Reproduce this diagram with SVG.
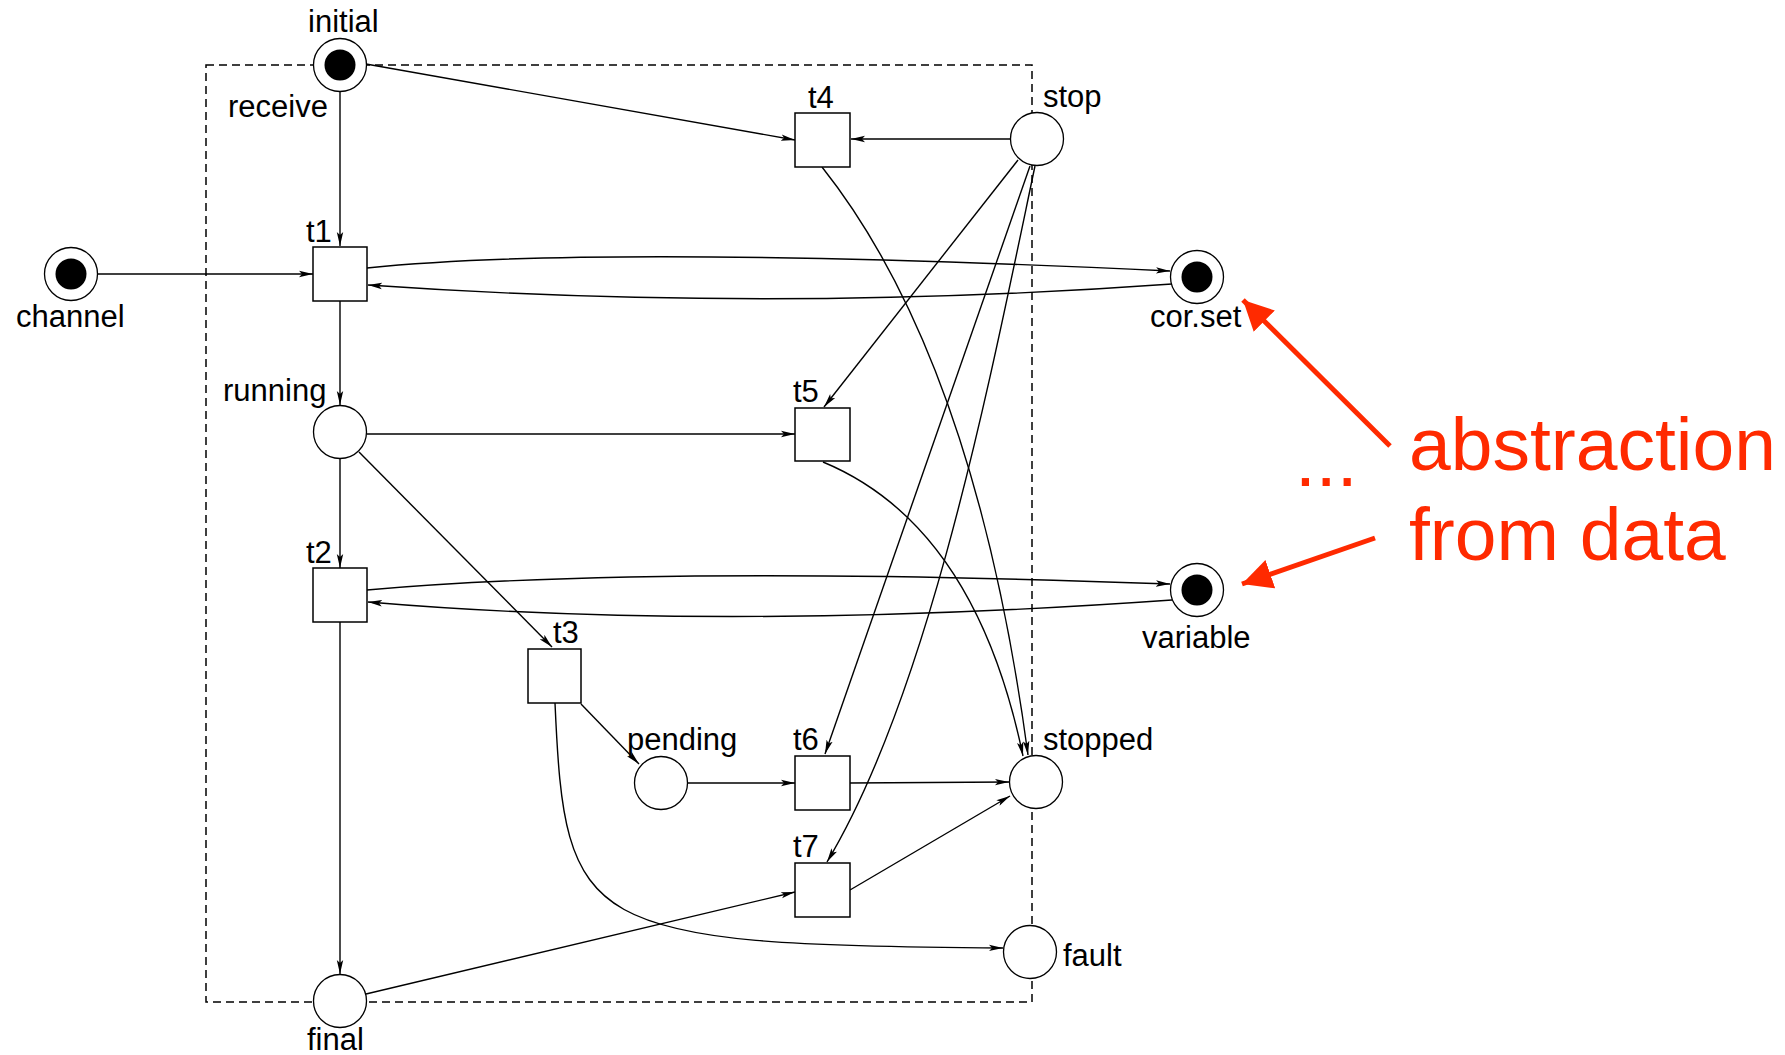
<svg xmlns="http://www.w3.org/2000/svg" width="1785" height="1055" viewBox="0 0 1785 1055">
  <style>
    .lbl { font-family: "Liberation Sans", Arial, sans-serif; font-size: 31px; fill: #000; }
    .note { font-family: "Liberation Sans", Arial, sans-serif; font-size: 75px; fill: #ff2a00; }
    .place { fill: #fff; stroke: #000; stroke-width: 1.3; }
    .token { fill: #000; }
    .trans { fill: #fff; stroke: #000; stroke-width: 1.5; }
    .arc { fill: none; stroke: #000; stroke-width: 1.4; marker-end: url(#ah); }
    .boundary { fill: none; stroke: #000; stroke-width: 1.5; stroke-dasharray: 8 5; }
    .callout { fill: none; stroke: #ff2a00; stroke-width: 5; marker-end: url(#redhead); }
  </style>
  <defs>
    <marker id="ah" markerUnits="userSpaceOnUse" markerWidth="16" markerHeight="8" refX="14" refY="4" orient="auto">
      <path d="M0,0.8 L14,4 L0,7.2 L3,4 Z" fill="#000"/>
    </marker>
    <marker id="redhead" markerUnits="userSpaceOnUse" markerWidth="32" markerHeight="32" refX="30" refY="15" orient="auto">
      <path d="M0,0 L30,15 L0,30 Z" fill="#ff2a00"/>
    </marker>
  </defs>
  <rect width="1785" height="1055" fill="#fff"/>

  <!-- process boundary -->
  <rect class="boundary" x="206" y="65" width="826" height="937"/>

  <!-- arcs -->
  <g id="connectors">
    <path class="arc" d="M340,92 L340,246"/>
    <path class="arc" d="M366,64 L795,140"/>
    <path class="arc" d="M1010,139 L851,139"/>
    <path class="arc" d="M98,274 L313,274"/>
    <path class="arc" d="M367,268 Q600,244 1170,271"/>
    <path class="arc" d="M1172,284 Q770,313 368,285"/>
    <path class="arc" d="M340,301 L340,405"/>
    <path class="arc" d="M367,434 L795,434"/>
    <path class="arc" d="M340,459 L340,568"/>
    <path class="arc" d="M359,452 L552,647"/>
    <path class="arc" d="M367,590 Q650,565 1170,584"/>
    <path class="arc" d="M1172,600 Q720,632 368,602"/>
    <path class="arc" d="M340,622 L340,974"/>
    <path class="arc" d="M581,704 L639,764"/>
    <path class="arc" d="M688,783 L795,783"/>
    <path class="arc" d="M555,703 C565,930 580,945 1003,948"/>
    <path class="arc" d="M822,167 Q975,360 1028,755"/>
    <path class="arc" d="M823,462 Q975,525 1023,756"/>
    <path class="arc" d="M1018,160 L824,407"/>
    <path class="arc" d="M1030,166 L825,754"/>
    <path class="arc" d="M1035,166 C990,380 930,690 827,862"/>
    <path class="arc" d="M850,783 L1009,782"/>
    <path class="arc" d="M850,890 L1010,796"/>
    <path class="arc" d="M366,994 L795,892"/>
  </g>

  <!-- places -->
  <g id="initial">
    <circle class="place" cx="340" cy="65" r="26.5"/>
    <circle class="token" cx="340" cy="65" r="15.5"/>
    <text class="lbl" x="308" y="32">initial</text>
    <text class="lbl" x="228" y="117">receive</text>
  </g>
  <g id="channel">
    <circle class="place" cx="71" cy="274" r="26.5"/>
    <circle class="token" cx="71" cy="274" r="15.5"/>
    <text class="lbl" x="16" y="327">channel</text>
  </g>
  <g id="corset">
    <circle class="place" cx="1197" cy="277" r="26.5"/>
    <circle class="token" cx="1197" cy="277" r="15.5"/>
    <text class="lbl" x="1150" y="327">cor.set</text>
  </g>
  <g id="variable">
    <circle class="place" cx="1197" cy="590" r="26.5"/>
    <circle class="token" cx="1197" cy="590" r="15.5"/>
    <text class="lbl" x="1142" y="648">variable</text>
  </g>
  <g id="running">
    <circle class="place" cx="340" cy="432" r="26.5"/>
    <text class="lbl" x="223" y="401">running</text>
  </g>
  <g id="pending">
    <circle class="place" cx="661" cy="783" r="26.5"/>
    <text class="lbl" x="627" y="750">pending</text>
  </g>
  <g id="stop">
    <circle class="place" cx="1037" cy="139" r="26.5"/>
    <text class="lbl" x="1043" y="107">stop</text>
  </g>
  <g id="stopped">
    <circle class="place" cx="1036" cy="782" r="26.5"/>
    <text class="lbl" x="1043" y="750">stopped</text>
  </g>
  <g id="fault">
    <circle class="place" cx="1030" cy="952" r="26.5"/>
    <text class="lbl" x="1063" y="966">fault</text>
  </g>
  <g id="final">
    <circle class="place" cx="340" cy="1001" r="26.5"/>
    <text class="lbl" x="307" y="1050">final</text>
  </g>

  <!-- transitions -->
  <g id="t1">
    <rect class="trans" x="313" y="247" width="54" height="54"/>
    <text class="lbl" x="306" y="242">t1</text>
  </g>
  <g id="t2">
    <rect class="trans" x="313" y="568" width="54" height="54"/>
    <text class="lbl" x="306" y="563">t2</text>
  </g>
  <g id="t3">
    <rect class="trans" x="528" y="649" width="53" height="54"/>
    <text class="lbl" x="553" y="643">t3</text>
  </g>
  <g id="t4">
    <rect class="trans" x="795" y="113" width="55" height="54"/>
    <text class="lbl" x="808" y="108">t4</text>
  </g>
  <g id="t5">
    <rect class="trans" x="795" y="408" width="55" height="53"/>
    <text class="lbl" x="793" y="402">t5</text>
  </g>
  <g id="t6">
    <rect class="trans" x="795" y="756" width="55" height="54"/>
    <text class="lbl" x="793" y="750">t6</text>
  </g>
  <g id="t7">
    <rect class="trans" x="795" y="863" width="55" height="54"/>
    <text class="lbl" x="793" y="857">t7</text>
  </g>

  <!-- annotation -->
  <g id="annotation">
    <path class="callout" d="M1390,446 L1243,300"/>
    <path class="callout" d="M1375,538 L1242,584"/>
    <text class="note" x="1295" y="486">...</text>
    <text class="note" x="1409" y="470">abstraction</text>
    <text class="note" x="1409" y="560">from data</text>
  </g>
</svg>
